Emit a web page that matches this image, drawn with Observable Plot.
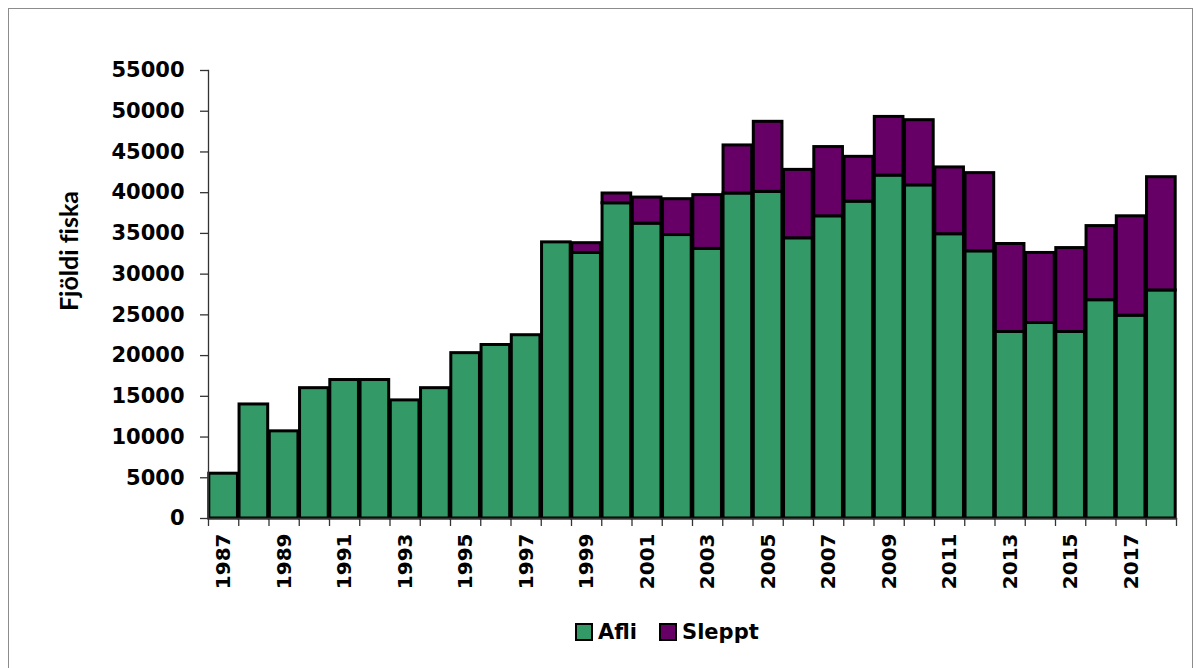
<!DOCTYPE html>
<html>
<head>
<meta charset="utf-8">
<script src="https://cdn.jsdelivr.net/npm/d3@7"></script>
<script src="https://cdn.jsdelivr.net/npm/@observablehq/plot@0.6"></script>
<style>
  html, body { margin: 0; padding: 0; background: #fff; overflow: hidden; }
  #frame { position: absolute; left: 8px; top: 8px; width: 1183px; height: 720px; border: 1px solid #8c8c8c; pointer-events: none; }
  #chart { position: absolute; left: 0; top: 0; }
  #ytitle { position: absolute; left: 68px; top: 251px; transform: translate(-50%, -50%) rotate(-90deg);
            font-family: Lato, sans-serif; font-weight: bold; font-size: 25px; color: #000; white-space: nowrap;
            font-variant-ligatures: none; }
  #legend { position: absolute; left: 575px; top: 620px; display: flex; align-items: center; gap: 22px;
            font-family: "DejaVu Sans", sans-serif; font-weight: bold; font-size: 21px; color: #000; }
  .item { display: flex; align-items: center; gap: 5px; }
  .sw { width: 14px; height: 14px; border: 2px solid #000; }
</style>
</head>
<body>
<div id="chart"></div>
<div id="ytitle">Fjöldi fiska</div>
<div id="legend"></div>
<div id="frame"></div>
<script>
const years = d3.range(1987, 2019);
const afli = [5500, 14000, 10700, 16000, 17000, 17000, 14500, 16000, 20300, 21300, 22500, 33900,
  32600, 38700, 36200, 34800, 33100, 39900, 40100, 34400, 37100, 38900, 42100, 40900,
  34900, 32800, 22900, 24000, 22900, 26800, 24900, 28000];
const total = [5500, 14000, 10700, 16000, 17000, 17000, 14500, 16000, 20300, 21300, 22500, 33900,
  33800, 39900, 39400, 39200, 39700, 45800, 48700, 42800, 45600, 44400, 49300, 48900,
  43100, 42400, 33700, 32600, 33200, 35900, 37100, 41900];
const sleppt = total.map((t, i) => t - afli[i]);
const seriesNames = ["Afli", "Sleppt"];
const seriesColors = ["#339966", "#660066"];
const yTicks = d3.range(0, 55001, 5000);
const labelYears = years.filter(y => y % 2 === 1);

const rows = [];
years.forEach((yr, i) => {
  rows.push({year: yr, series: "Afli", y1: 0, y2: afli[i]});
  rows.push({year: yr, series: "Sleppt", y1: afli[i], y2: afli[i] + sleppt[i]});
});
const boundaries = years.map(y => y - 0.5).concat([years[years.length - 1] + 0.5]);

const chart = Plot.plot({
  width: 1200,
  height: 600,
  marginLeft: 208,
  marginRight: 24,
  marginTop: 70,
  marginBottom: 82,
  x: {type: "linear", domain: [years[0] - 0.5, years[years.length - 1] + 0.5], axis: null},
  y: {domain: [0, 55000], axis: null},
  color: {domain: seriesNames, range: seriesColors},
  style: {fontFamily: "DejaVu Sans", color: "#000", background: "transparent"},
  marks: [
    Plot.rectY(rows.filter(d => d.y2 > d.y1), {
      x1: d => d.year - 0.5, x2: d => d.year + 0.5, y1: "y1", y2: "y2",
      fill: "series", stroke: "#000", strokeWidth: 3, insetLeft: 0.8, insetRight: 0.8
    }),
    Plot.axisY({ticks: yTicks, tickSize: 8, tickPadding: 16, tickFormat: d => String(d),
      fontSize: 21, fontWeight: "bold", fontFamily: "DejaVu Sans", label: null, stroke: "#333", strokeWidth: 1.3}),
    Plot.axisX({ticks: boundaries, tickSize: 8, tickFormat: () => "", label: null, stroke: "#333", strokeWidth: 1.3}),
    Plot.axisX({ticks: labelYears, tickSize: 0, tickPadding: 15, tickRotate: -90, tickFormat: d => String(d),
      fontSize: 20, fontWeight: "bold", fontFamily: "DejaVu Sans", label: null}),
    Plot.frame({anchor: "left", stroke: "#333", strokeWidth: 1.3}),
    Plot.frame({anchor: "bottom", stroke: "#333", strokeWidth: 1.3})
  ]
});
document.getElementById("chart").appendChild(chart);

const legend = document.getElementById("legend");
seriesNames.forEach((name, i) => {
  const item = document.createElement("div");
  item.className = "item";
  const sw = document.createElement("span");
  sw.className = "sw";
  sw.style.background = seriesColors[i];
  const t = document.createElement("span");
  t.textContent = name;
  item.appendChild(sw);
  item.appendChild(t);
  legend.appendChild(item);
});
</script>
</body>
</html>
